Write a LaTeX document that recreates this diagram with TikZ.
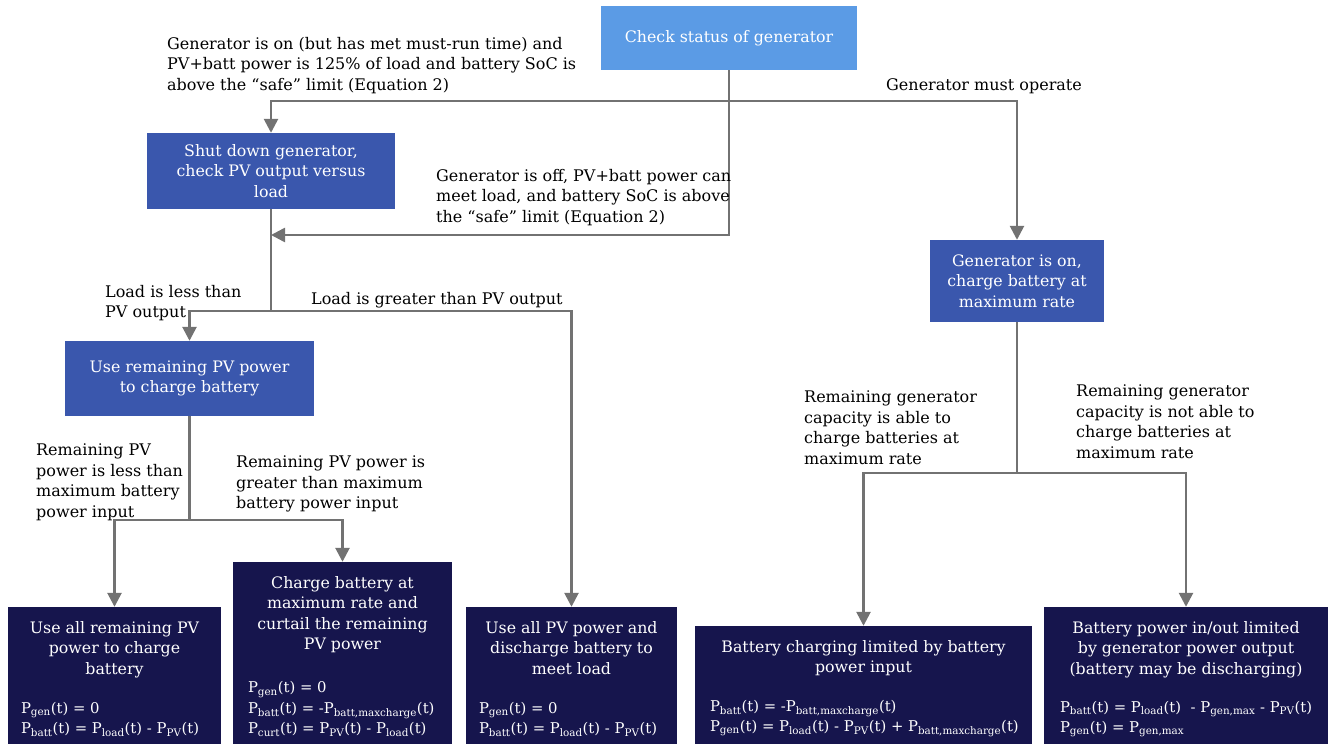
\documentclass[tikz,border=0pt]{standalone}
\usepackage{fontspec}
\setmainfont{DejaVu Serif}
\usetikzlibrary{arrows.meta}
\definecolor{chkblue}{RGB}{91,155,229}
\definecolor{stepblue}{RGB}{58,87,173}
\definecolor{outnavy}{RGB}{22,21,77}
\definecolor{flowgray}{RGB}{114,114,114}
\def\lblfont{\fontsize{16}{20.5}\selectfont}
\def\boxfont{\fontsize{15.8}{20.5}\selectfont}
\def\eqfont{\fontsize{14.8}{20.5}\selectfont}
\def\Pw#1{P\textsubscript{#1}}

\begin{document}
\begin{tikzpicture}[x=1pt,y=-1pt,
	box/.style={rectangle, inner sep=0pt, text=white, align=center, font=\boxfont},
	wire/.style={line width=2.6pt, draw=flowgray},
	flow/.style={wire, -{Triangle[length=14pt,width=14pt]}},
	lbl/.style={anchor=north west, inner sep=0pt, align=left, font=\lblfont},
	title/.style={anchor=north, inner sep=0pt, align=center, text=white, font=\boxfont},
	eqs/.style={anchor=south west, inner sep=0pt, align=left, text=white, font=\eqfont}]
			%%%%% START %%%%%
			\useasboundingbox (0,0) rectangle (1331,746);
			
			% decision boxes
			\node[box, fill=chkblue, minimum width=256pt, minimum height=64pt] (chk) at (729,38) {Check status of generator};
			\node[box, fill=stepblue, minimum width=248pt, minimum height=76pt] (shutdown) at (271,171) {Shut down generator,\\check PV output versus\\load};
			\node[box, fill=stepblue, minimum width=174pt, minimum height=82pt] (genon) at (1017,281) {Generator is on,\\charge battery at\\maximum rate};
			\node[box, fill=stepblue, minimum width=249pt, minimum height=75pt] (usepv) at (189.5,378.5) {Use remaining PV power\\to charge battery};
			
			% outcome boxes
			\node[box, fill=outnavy, minimum width=213pt, minimum height=137pt] (allpv) at (114.5,675.5) {};
			\node[title] (allpvt) at ([yshift=-14pt]allpv.north) {Use all remaining PV\\power to charge\\battery};
			\node[eqs] (allpve) at ([xshift=13pt,yshift=7pt]allpv.south west) {\Pw{gen}(t) = 0\\\Pw{batt}(t) = \Pw{load}(t) - \Pw{PV}(t)};
			
			\node[box, fill=outnavy, minimum width=219pt, minimum height=182pt] (maxrate) at (342.5,653) {};
			\node[title] (maxratet) at ([yshift=-14pt]maxrate.north) {Charge battery at\\maximum rate and\\curtail the remaining\\PV power};
			\node[eqs] (maxratee) at ([xshift=15pt,yshift=7pt]maxrate.south west) {\Pw{gen}(t) = 0\\\Pw{batt}(t) = -\Pw{batt,maxcharge}(t)\\\Pw{curt}(t) = \Pw{PV}(t) - \Pw{load}(t)};
			
			\node[box, fill=outnavy, minimum width=211pt, minimum height=137pt] (discharge) at (571.5,675.5) {};
			\node[title] (discharget) at ([yshift=-14pt]discharge.north) {Use all PV power and\\discharge battery to\\meet load};
			\node[eqs] (dischargee) at ([xshift=13pt,yshift=7pt]discharge.south west) {\Pw{gen}(t) = 0\\\Pw{batt}(t) = \Pw{load}(t) - \Pw{PV}(t)};
			
			\node[box, fill=outnavy, minimum width=337pt, minimum height=118pt] (battlim) at (863.5,685) {};
			\node[title] (battlimt) at ([yshift=-14pt]battlim.north) {Battery charging limited by battery\\power input};
			\node[eqs] (battlime) at ([xshift=15pt,yshift=7pt]battlim.south west) {\Pw{batt}(t) = -\Pw{batt,maxcharge}(t)\\\Pw{gen}(t) = \Pw{load}(t) - \Pw{PV}(t) + \Pw{batt,maxcharge}(t)};
			
			\node[box, fill=outnavy, minimum width=284pt, minimum height=137pt] (genlim) at (1186,675.5) {};
			\node[title] (genlimt) at ([yshift=-14pt]genlim.north) {Battery power in/out limited\\by generator power output\\(battery may be discharging)};
			\node[eqs] (genlime) at ([xshift=16pt,yshift=7pt]genlim.south west) {\Pw{batt}(t) = \Pw{load}(t)\ \ - \Pw{gen,max} - \Pw{PV}(t)\\\Pw{gen}(t) = \Pw{gen,max}};
			
			% junctions
			\coordinate (topbar) at (729,101);
			\coordinate (offjoin) at (271,235);
			\coordinate (loadsplit) at (271,311);
			\coordinate (pvsplit) at (189.5,520);
			\coordinate (gensplit) at (1017,473);
			
			% connectors
			\draw[flow] (chk.south) |- (offjoin);
			\draw[flow] (topbar) -| (shutdown.north);
			\draw[flow] (topbar) -| (genon.north);
			\draw[wire] (shutdown.south) -- (loadsplit);
			\draw[flow] (loadsplit) -| (usepv.north);
			\draw[flow] (loadsplit) -| (discharge.north);
			\draw[wire] (usepv.south) -- (pvsplit);
			\draw[flow] (pvsplit) -| (allpv.north);
			\draw[flow] (pvsplit) -| (maxrate.north);
			\draw[wire] (genon.south) -- (gensplit);
			\draw[flow] (gensplit) -| (battlim.north);
			\draw[flow] (gensplit) -| (genlim.north);
			
			% branch labels
			\node[lbl] (lblon) at (167,37) {Generator is on (but has met must-run time) and\\PV+batt power is 125\% of load and battery SoC is\\above the “safe” limit (Equation 2)};
			\node[lbl] (lbloff) at (436,169) {Generator is off, PV+batt power can\\meet load, and battery SoC is above\\the “safe” limit (Equation 2)};
			\node[lbl] (lblmust) at (886,78) {Generator must operate};
			\node[lbl] (lblless) at (105,285) {Load is less than\\PV output};
			\node[lbl] (lblgreater) at (311,292) {Load is greater than PV output};
			\node[lbl] (lblremless) at (36,444) {Remaining PV\\power is less than\\maximum battery\\power input};
			\node[lbl] (lblremgreater) at (236,456) {Remaining PV power is\\greater than maximum\\battery power input};
			\node[lbl] (lblable) at (804,391) {Remaining generator\\capacity is able to\\charge batteries at\\maximum rate};
			\node[lbl] (lblnotable) at (1076,385) {Remaining generator\\capacity is not able to\\charge batteries at\\maximum rate};
			
			%%%%% END %%%%%
		\end{tikzpicture}
\end{document}
